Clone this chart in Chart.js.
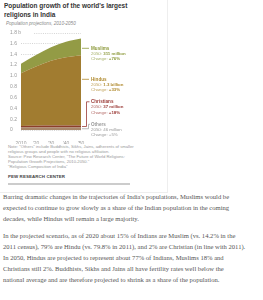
<!DOCTYPE html>
<html><head><meta charset="utf-8">
<script src="https://cdn.jsdelivr.net/npm/chart.js@4"></script>
<style>
html,body{margin:0;padding:0;background:#fff;width:263px;height:300px;overflow:hidden;position:relative;font-family:"Liberation Sans",Arial,sans-serif}
.abs{position:absolute;white-space:nowrap}
#title{left:4px;top:1px;font-weight:bold;font-size:7.2px;line-height:9px;color:#333;transform:scaleX(0.9);transform-origin:left top}
#sub{left:6px;top:21px;font-style:italic;font-size:4.6px;color:#888}
#cv{position:absolute;left:0;top:28px}
.ann{position:absolute;left:91px;font-size:4.4px;line-height:5.4px;white-space:nowrap}
.ann b{font-weight:bold}
.ann .l{font-weight:bold;font-size:4.6px}
#note{left:8px;top:145px;font-size:4.2px;line-height:4.9px;color:#999}
#pew{left:8px;top:174px;font-size:4.4px;font-weight:bold;color:#444;letter-spacing:0.1px}
#rule{position:absolute;left:8px;top:183px;width:122px;height:2px;background:#ccc}
#box{position:absolute;left:-1px;top:-1px;width:167px;height:192px;border:1px solid #eee}
.p{position:absolute;left:3px;font-family:"Liberation Serif","Times New Roman",serif;font-size:6.6px;line-height:11px;color:#555;white-space:nowrap}
</style></head>
<body>
<div id="box"></div>
<div id="title" class="abs">Population growth of the world's largest<br>religions in India</div>
<div id="sub" class="abs">Population projections, 2010-2050</div>
<canvas id="cv" width="96" height="116"></canvas>
<div class="ann" id="aM" style="top:45.5px;color:#8d9a3c"><span class="l">Muslims</span><br><span style="opacity:.8">2050: </span><b>311 million</b><br><span style="opacity:.8">Change: </span><b>+76%</b></div>
<div class="ann" id="aH" style="top:76.5px;color:#b08a2e"><span class="l">Hindus</span><br><span style="opacity:.8">2050: </span><b>1.3 billion</b><br><span style="opacity:.8">Change: </span><b>+33%</b></div>
<div class="ann" id="aC" style="top:99px;color:#9b3a36"><span class="l">Christians</span><br><span style="opacity:.8">2050: </span><b>37 million</b><br><span style="opacity:.8">Change: </span><b>+18%</b></div>
<div class="ann" id="aO" style="top:121.5px;color:#999"><span class="l">Others</span><br>2050: 46 million<br>Change: +5%</div>
<div id="note" class="abs">Note: "Others" include Buddhists, Sikhs, Jains, adherents of smaller<br>religious groups and people with no religious affiliation.<br>Source: Pew Research Center, "The Future of World Religions:<br>Population Growth Projections, 2010-2050."<br>"Religious Composition of India"</div>
<div id="pew" class="abs">PEW RESEARCH CENTER</div>
<div id="rule"></div>
<div class="p" style="top:191px">Barring dramatic changes in the trajectories of India's populations, Muslims would be<br>expected to continue to grow slowly as a share of the Indian population in the coming<br>decades, while Hindus will remain a large majority.</div>
<div class="p" style="top:230px">In the projected scenario, as of 2020 about 15% of Indians are Muslim (vs. 14.2% in the<br>2011 census), 79% are Hindu (vs. 79.8% in 2011), and 2% are Christian (in line with 2011).<br>In 2050, Hindus are projected to represent about 77% of Indians, Muslims 18% and<br>Christians still 2%. Buddhists, Sikhs and Jains all have fertility rates well below the<br>national average and are therefore projected to shrink as a share of the population.</div>
<script>
// Data (billions)
const years = ["2010", "'20", "'30", "'40", "'50"];
const others = [0.044, 0.045, 0.046, 0.046, 0.046];
const christians = [0.031, 0.033, 0.035, 0.036, 0.037];
const hindus = [0.974, 1.094, 1.196, 1.261, 1.297];
const muslims = [0.176, 0.213, 0.251, 0.286, 0.311];
const yTicks = [0, 0.2, 0.4, 0.6, 0.8, 1.0, 1.2, 1.4, 1.6, 1.8];

const colors = {others:'#a8876a', christians:'#8c3f2b', hindus:'#a17c30', muslims:'#939b45'};
const lineColors = {others:'#aaaaaa', christians:'#9b3a36', hindus:'#b08a2e', muslims:'#8d9a3c'};

const gridPlugin = {
  id:'grid',
  beforeDatasetsDraw(chart){
    const y = chart.scales.y, ctx = chart.ctx, ca = chart.chartArea;
    ctx.save();
    ctx.font = '5px "Liberation Sans", Arial, sans-serif';
    ctx.strokeStyle = '#c9c9c9'; ctx.lineWidth = 0.8; ctx.setLineDash([1,1.2]);
    y.ticks.forEach((t,i)=>{
      const py = Math.round(y.getPixelForValue(t.value)) + 0.5;
      const w = ctx.measureText(t.label).width;
      const x0 = Math.max(ca.left, y.left + w + 3);
      ctx.beginPath(); ctx.moveTo(x0, py); ctx.lineTo(ca.right, py); ctx.stroke();
    });
    ctx.restore();
  },
  afterDatasetsDraw(chart){
    const y = chart.scales.y, ctx = chart.ctx, ca = chart.chartArea;
    const n = years.length - 1;
    const cvTop = 28;
    const labTop = id => parseFloat(document.getElementById(id).style.top) - cvTop + 2.8;
    ctx.save(); ctx.lineWidth = 0.8;
    // Muslims & Hindus: horizontal leaders at label level
    [['aM','muslims'],['aH','hindus']].forEach(([id,k])=>{
      const py = labTop(id);
      ctx.strokeStyle = lineColors[k];
      ctx.beginPath(); ctx.moveTo(ca.right + 1, py); ctx.lineTo(89, py); ctx.stroke();
    });
    // Christians: from band middle
    const cMid = y.getPixelForValue(others[n] + christians[n]/2);
    const oMid = y.getPixelForValue(others[n]/2);
    ctx.strokeStyle = lineColors.christians;
    ctx.beginPath(); ctx.moveTo(ca.right + 1, cMid); ctx.lineTo(86.5, cMid); ctx.lineTo(86.5, labTop('aC')); ctx.lineTo(89.5, labTop('aC')); ctx.stroke();
    ctx.strokeStyle = lineColors.others;
    ctx.beginPath(); ctx.moveTo(ca.right + 1, oMid); ctx.lineTo(88.5, oMid); ctx.lineTo(88.5, labTop('aO')); ctx.lineTo(90, labTop('aO')); ctx.stroke();
    ctx.restore();
  }
};

const mk = (label, data, key, fill) => ({label, data, fill, backgroundColor: colors[key], borderColor: colors[key], borderWidth: 0, pointRadius: 0, cubicInterpolationMode:'monotone'});

new Chart(document.getElementById('cv'), {
  type:'line',
  data:{labels: years, datasets:[
    mk('Others', others, 'others', 'origin'),
    mk('Christians', christians, 'christians', '-1'),
    mk('Hindus', hindus, 'hindus', '-1'),
    mk('Muslims', muslims, 'muslims', '-1')
  ]},
  options:{
    responsive:false, animation:false, devicePixelRatio:1,
    layout:{padding:{left:10, top:4.5, right:15, bottom:0}},
    plugins:{legend:{display:false}, tooltip:{enabled:false}},
    scales:{
      x:{offset:false, grid:{display:false}, border:{display:false},
         ticks:{color:'#999', font:{size:5, family:'"Liberation Sans", Arial, sans-serif'}, padding:3, maxRotation:0, autoSkip:false},
         afterFit(s){ s.height = 14; }},
      y:{stacked:true, min:0, max:1.8, grid:{display:false}, border:{display:false},
         afterBuildTicks(s){ s.ticks = yTicks.map(v=>({value:v})); },
         ticks:{color:'#999', font:{size:5, family:'"Liberation Sans", Arial, sans-serif'}, crossAlign:'far', padding:0,
           callback:(v)=> v===1.8 ? '1.8 billion' : (v===0 ? '0' : v.toFixed(1))},
         afterFit(s){ s.width = 11; }}
    }
  },
  plugins:[gridPlugin]
});
</script>
</body></html>
